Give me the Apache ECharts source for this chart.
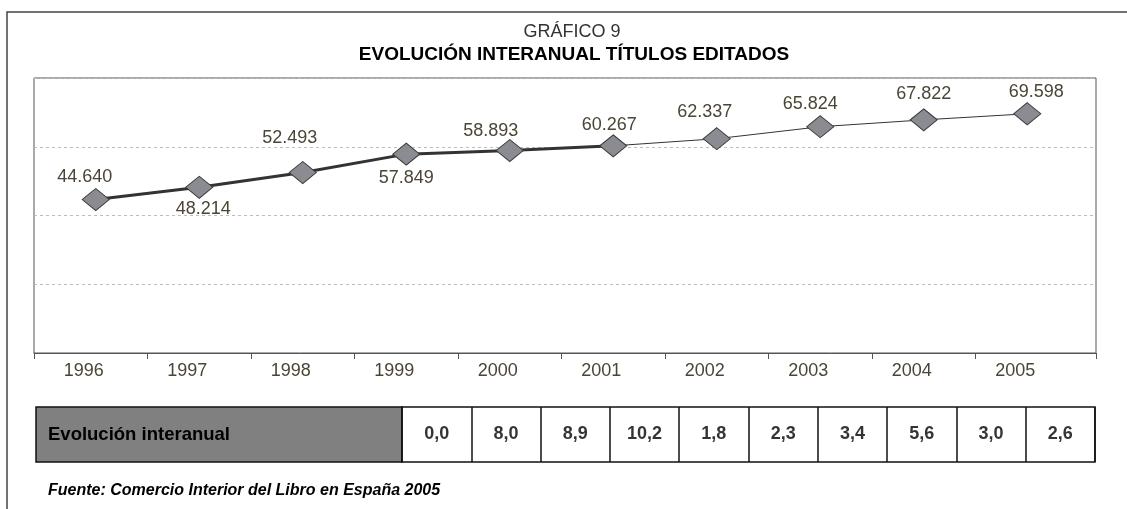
<!DOCTYPE html>
<html>
<head>
<meta charset="utf-8">
<script src="https://cdn.jsdelivr.net/npm/echarts@6/dist/echarts.min.js"></script>
<style>
  html, body { margin: 0; padding: 0; background: #fff; }
  #chart { width: 1127px; height: 509px; }
</style>
</head>
<body>
<div id="chart"></div>
<script>
// datos
var years = ["1996", "1997", "1998", "1999", "2000", "2001", "2002", "2003", "2004", "2005"];
var titulos = [44640, 48214, 52493, 57849, 58893, 60267, 62337, 65824, 67822, 69598];
var evolucion = [0.0, 8.0, 8.9, 10.2, 1.8, 2.3, 3.4, 5.6, 3.0, 2.6];
var yTicks = [0, 20000, 40000, 60000, 80000];

// tramo grueso hasta 2001, fino desde 2001
var splitIndex = 5;

// posicion de cada etiqueta respecto al rombo (estilo)
var labelOffsets = [[-11, -23], [4, 22], [-13, -35], [0, 24], [-19, -20],
  [-4, -21], [-12, -27], [-10, -23], [0, -26], [9, -22]];

var font = "Liberation Sans, Arial, sans-serif";
var labelColor = "#4a4535";

// zona de categorias: 44 .. 1079 px
var catLeft = 44, catRight = 48, band = (1127 - catLeft - catRight) / years.length;

function fmtNum(v) {
  // 44640 -> 44.640
  return String(v).replace(/\B(?=(\d{3})+(?!\d))/g, ".");
}

var chart = echarts.init(document.getElementById("chart"));

var thick = titulos.map(function (v, i) { return i <= splitIndex ? v : "-"; });
var thin = titulos.map(function (v, i) { return i >= splitIndex ? v : "-"; });

var option = {
  animation: false,
  grid: [
    // marco del grafico
    { left: 34, right: 31, top: 78, bottom: 156, show: true, borderColor: "#555", borderWidth: 1 },
    // zona de categorias
    { left: catLeft, right: catRight, top: 78, bottom: 156 },
    // cabecera de la tabla
    { left: 36, width: 366, top: 407, height: 55, show: true, backgroundColor: "#808080", borderColor: "#111", borderWidth: 1.5 },
    // celdas de la tabla
    { left: 402, right: 32, top: 407, height: 55, show: true, backgroundColor: "#fff", borderColor: "#111", borderWidth: 1.5 },
    // marcas interiores del eje (entre 1996|1997 y 2004|2005)
    { left: catLeft + band, right: catRight + band, top: 78, bottom: 156 }
  ],
  xAxis: [
    {
      gridIndex: 0, type: "category", data: [""], boundaryGap: true,
      axisLine: { lineStyle: { color: "#555", width: 1 } },
      axisTick: { show: true, length: 6, lineStyle: { color: "#555" } },
      axisLabel: { show: false }
    },
    {
      gridIndex: 1, type: "category", data: years, boundaryGap: true,
      axisLine: { show: false },
      axisTick: { show: false },
      axisLabel: {
        color: labelColor, fontFamily: font, fontSize: 18, margin: 9,
        padding: [0, 24, 0, 0]
      }
    },
    { gridIndex: 2, type: "value", show: false, min: 0, max: 1 },
    {
      gridIndex: 3, type: "category", data: years, boundaryGap: true,
      axisLine: { show: false }, axisTick: { show: false }, axisLabel: { show: false },
      splitLine: { show: true, lineStyle: { color: "#111", width: 1.5 } }
    },
    {
      gridIndex: 4, type: "category", data: years.slice(1, -1), boundaryGap: true,
      axisLine: { show: false }, axisLabel: { show: false },
      axisTick: { show: true, length: 6, lineStyle: { color: "#555" } }
    }
  ],
  yAxis: [
    {
      gridIndex: 0, type: "value", min: yTicks[0], max: yTicks[yTicks.length - 1], interval: yTicks[1] - yTicks[0],
      axisLine: { show: false }, axisTick: { show: false }, axisLabel: { show: false },
      splitLine: { show: true, lineStyle: { color: "#bdbdbd", type: [3, 3], width: 1 } }
    },
    {
      gridIndex: 1, type: "value", min: yTicks[0], max: yTicks[yTicks.length - 1],
      show: false, splitLine: { show: false }
    },
    { gridIndex: 2, type: "value", show: false, min: 0, max: 1 },
    { gridIndex: 3, type: "value", show: false, min: -1, max: 1, splitLine: { show: false } },
    { gridIndex: 4, type: "value", show: false, splitLine: { show: false } }
  ],
  series: [
    {
      name: "tramo1", type: "line", xAxisIndex: 1, yAxisIndex: 1,
      data: thick, symbol: "none", z: 2,
      lineStyle: { color: "#333", width: 3 }
    },
    {
      name: "tramo2", type: "line", xAxisIndex: 1, yAxisIndex: 1,
      data: thin, symbol: "none", z: 2,
      lineStyle: { color: "#333", width: 1 }
    },
    {
      name: "Títulos editados", type: "scatter", xAxisIndex: 1, yAxisIndex: 1, z: 3,
      symbol: "diamond", symbolSize: [27, 22],
      itemStyle: { color: "#8b8c91", borderColor: "#3a3a3a", borderWidth: 1, opacity: 1 },
      data: titulos.map(function (v, i) {
        return {
          value: [i, v],
          label: { offset: labelOffsets[i] }
        };
      }),
      label: {
        show: true, position: "inside", color: labelColor,
        fontFamily: font, fontSize: 18,
        formatter: function (p) { return fmtNum(p.value[1]); }
      }
    },
    {
      name: "Evolución interanual", type: "scatter", xAxisIndex: 3, yAxisIndex: 3,
      symbolSize: 1, itemStyle: { color: "rgba(0,0,0,0)" },
      data: evolucion.map(function (v, i) { return [i, 0]; }),
      label: {
        show: true, position: "inside", color: "#000",
        fontFamily: font, fontSize: 18, fontWeight: "bold",
        formatter: function (p) { return evolucion[p.dataIndex].toFixed(1).replace(".", ","); }
      }
    }
  ],
  graphic: [
    {
      type: "rect", silent: true, z: -1,
      shape: { x: 7, y: 12, width: 1130, height: 510 },
      style: { fill: "none", stroke: "#444", lineWidth: 1.5 }
    },
    {
      type: "text", x: 572, y: 32,
      style: { text: "GRÁFICO 9", fill: "#333", font: "18px " + font, textAlign: "center", textVerticalAlign: "middle" }
    },
    {
      type: "text", x: 574, y: 55,
      style: { text: "EVOLUCIÓN INTERANUAL TÍTULOS EDITADOS", fill: "#000", font: "bold 19px " + font, textAlign: "center", textVerticalAlign: "middle" }
    },
    {
      type: "text", x: 48, y: 434.5, z: 10,
      style: { text: "Evolución interanual", fill: "#000", font: "bold 18.5px " + font, textAlign: "left", textVerticalAlign: "middle" }
    },
    {
      type: "text", x: 48, y: 491,
      style: { text: "Fuente: Comercio Interior del Libro en España 2005", fill: "#000", font: "italic bold 16px " + font, textAlign: "left", textVerticalAlign: "middle" }
    }
  ]
};

chart.setOption(option);
window.addEventListener("resize", function () {
  chart.resize();
});
</script>
</body>
</html>
